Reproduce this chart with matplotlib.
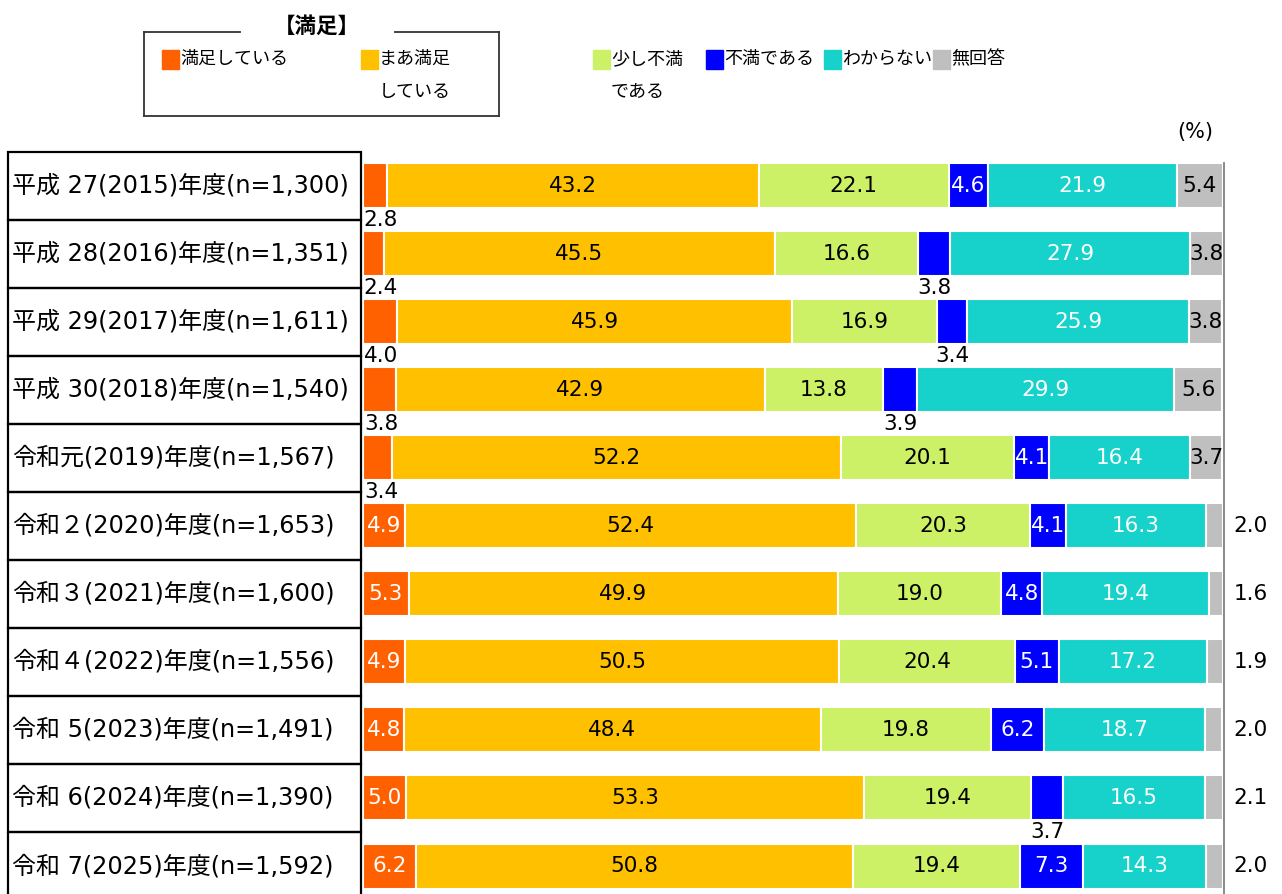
import matplotlib
matplotlib.use("Agg")
import matplotlib.pyplot as plt
from matplotlib.patches import Rectangle
from matplotlib.lines import Line2D
from matplotlib.transforms import blended_transform_factory

plt.rcParams['font.family'] = ['DejaVu Sans', 'Noto Sans CJK JP']

# データ
years = ["平成 27(2015)年度(n=1,300)", "平成 28(2016)年度(n=1,351)",
         "平成 29(2017)年度(n=1,611)", "平成 30(2018)年度(n=1,540)",
         "令和元(2019)年度(n=1,567)", "令和２(2020)年度(n=1,653)",
         "令和３(2021)年度(n=1,600)", "令和４(2022)年度(n=1,556)",
         "令和 5(2023)年度(n=1,491)", "令和 6(2024)年度(n=1,390)",
         "令和 7(2025)年度(n=1,592)"]
manzoku = [2.8, 2.4, 4.0, 3.8, 3.4, 4.9, 5.3, 4.9, 4.8, 5.0, 6.2]
maa_manzoku = [43.2, 45.5, 45.9, 42.9, 52.2, 52.4, 49.9, 50.5, 48.4, 53.3, 50.8]
sukoshi_fuman = [22.1, 16.6, 16.9, 13.8, 20.1, 20.3, 19.0, 20.4, 19.8, 19.4, 19.4]
fuman = [4.6, 3.8, 3.4, 3.9, 4.1, 4.1, 4.8, 5.1, 6.2, 3.7, 7.3]
wakaranai = [21.9, 27.9, 25.9, 29.9, 16.4, 16.3, 19.4, 17.2, 18.7, 16.5, 14.3]
mukaitou = [5.4, 3.8, 3.8, 5.6, 3.7, 2.0, 1.6, 1.9, 2.0, 2.1, 2.0]

series = [manzoku, maa_manzoku, sukoshi_fuman, fuman, wakaranai, mukaitou]
colors = ['#FF6000', '#FFC000', '#CCF066', '#0000FF', '#17D1CB', '#BFBFBF']
txt_colors = ['white', 'black', 'black', 'white', 'white', 'black']

W, H = 1282, 894
fig = plt.figure(figsize=(W / 100, H / 100), dpi=100)

top_px = 151.5
pitch = 68.05
ax = fig.add_axes([363 / W, 0, 860 / W, (H - top_px) / H])
ax.set_xlim(0, 100)
ax.set_ylim(-0.5 + (H - top_px) / pitch, -0.5)
ax.axis('off')

n = len(years)
bar_h = 45 / pitch
fs = 15.5
left = [0.0] * n
for k, vals in enumerate(series):
    ax.barh(range(n), vals, left=left, height=bar_h, color=colors[k],
            edgecolor='white', linewidth=1.5, zorder=3)
    for i, v in enumerate(vals):
        c = left[i] + v / 2
        s = f"{v:.1f}"
        if k == 5:
            if v < 3:
                ax.text(103.2, i, s, ha='center', va='center', fontsize=fs, color='black')
            else:
                ax.text(c, i, s, ha='center', va='center', fontsize=fs, color='black', zorder=4)
        elif v < 4.05:
            # 幅が狭いものはバーの下に表示
            if k == 0:
                ax.text(0.1, i + 0.5, s, ha='left', va='center', fontsize=fs, color='black', zorder=4)
            else:
                ax.text(c, i + 0.5, s, ha='center', va='center', fontsize=fs, color='black', zorder=4)
        else:
            ax.text(c, i, s, ha='center', va='center', fontsize=fs, color=txt_colors[k], zorder=4)
        left[i] += v

# 右の縦線
ax.plot([100.1, 100.1], [-0.33, n], color='#808080', lw=1.3, zorder=1, clip_on=False)

# 左のラベル枠
tr = blended_transform_factory(fig.transFigure, ax.transData)
for i, name in enumerate(years):
    ax.add_patch(Rectangle((8 / W, i - 0.5), 353 / W, 1, transform=tr, fill=False,
                           edgecolor='black', lw=1.6, clip_on=False))
    ax.text(12 / W, i, name, transform=tr, ha='left', va='center', fontsize=17.3)


def px(x, y):
    return x / W, 1 - y / H


# 凡例
for (x0, y0), (x1, y1) in [((144, 32), (240, 32)), ((395, 32), (499, 32)),
                           ((499, 32), (499, 116)), ((499, 116), (144, 116)),
                           ((144, 116), (144, 32))]:
    fig.add_artist(Line2D([x0 / W, x1 / W], [1 - y0 / H, 1 - y1 / H], color='#333333', lw=1.3))
fig.text(*px(317, 26), "【満足】", ha='center', va='center', fontsize=15.5, fontweight='bold')

legend_items = [(162, "満足している"), (361, "まあ満足\nしている"), (593, "少し不満\nである"),
                (706, "不満である"), (824, "わからない"), (933, "無回答")]
for k, (lx, lab) in enumerate(legend_items):
    fig.add_artist(Rectangle(px(lx, 69), 17 / W, 19 / H, transform=fig.transFigure,
                             color=colors[k]))
    fig.text(*px(lx + 18, 50), lab, ha='left', va='top', fontsize=13, linespacing=2.1)

fig.text(*px(1195, 132), "(%)", ha='center', va='center', fontsize=15)

fig.savefig("out.png", dpi=100)
